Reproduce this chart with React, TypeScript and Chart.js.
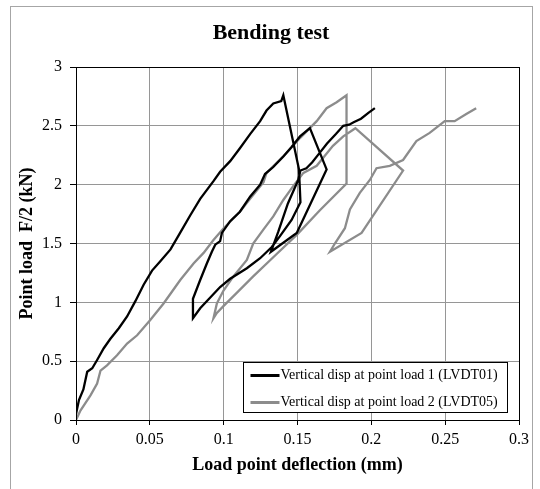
import React, { useEffect, useRef } from "react";
import { Chart, registerables } from "chart.js";

Chart.register(...registerables);

const chartTitle = "Bending test";
const xAxisTitle = "Load point deflection (mm)";
const yAxisTitle = "Point load  F/2 (kN)";

const seriesLabels = [
  "Vertical disp at point load 1 (LVDT01)",
  "Vertical disp at point load 2 (LVDT05)",
];

const xTickValues = [0, 0.05, 0.1, 0.15, 0.2, 0.25, 0.3];
const yTickValues = [0, 0.5, 1, 1.5, 2, 2.5, 3];

// LVDT01 (black)
const lvdt01X = [
  0, 0.002, 0.005, 0.0076, 0.011, 0.0143, 0.0188, 0.0233, 0.029, 0.0346, 0.0402, 0.0458, 0.0515, 0.0571, 0.064, 0.07,
  0.0774, 0.0841, 0.0931, 0.0976, 0.1044, 0.111, 0.1179, 0.1247, 0.129, 0.1336, 0.139, 0.1404,
  0.151, 0.152, 0.146, 0.138, 0.1326, 0.1247, 0.1157, 0.1044, 0.0976, 0.0841, 0.0792,
  0.0792, 0.0841, 0.0886, 0.092, 0.0943, 0.0976, 0.0988, 0.1044, 0.111, 0.118, 0.1247, 0.128, 0.1336, 0.1404, 0.146,
  0.1517, 0.1584,
  0.1697, 0.1495, 0.132,
  0.137, 0.1435, 0.1505, 0.152, 0.156, 0.16, 0.165, 0.17, 0.176, 0.181, 0.185, 0.188, 0.193, 0.198, 0.2024,
];
const lvdt01Y = [
  0.05, 0.17, 0.26, 0.41, 0.44, 0.51, 0.61, 0.69, 0.78, 0.88, 1.01, 1.15, 1.27, 1.35, 1.45, 1.58,
  1.74, 1.88, 2.03, 2.11, 2.2, 2.31, 2.43, 2.54, 2.63, 2.69, 2.71, 2.76,
  2.13, 1.85, 1.7, 1.56, 1.47, 1.375, 1.29, 1.2, 1.13, 0.95, 0.865,
  1.03, 1.19, 1.33, 1.43, 1.49, 1.52, 1.59, 1.69, 1.77, 1.9, 2.0, 2.09, 2.15, 2.24, 2.32,
  2.41, 2.48,
  2.13, 1.59, 1.43,
  1.6, 1.84, 2.04, 2.12, 2.14, 2.19, 2.27, 2.35, 2.43, 2.5, 2.51, 2.53, 2.56, 2.61, 2.65,
];

// LVDT05 (grey)
const lvdt05X = [
  0, 0.003, 0.0098, 0.0143, 0.0166, 0.021, 0.0278, 0.0346, 0.0414, 0.0503, 0.0593, 0.0706, 0.0796, 0.0864, 0.0931, 0.1,
  0.111, 0.1179, 0.127, 0.129, 0.1404, 0.152, 0.163, 0.1697, 0.1765, 0.1832,
  0.1832,
  0.165, 0.15, 0.135, 0.12, 0.108, 0.1, 0.0954, 0.0931,
  0.0954, 0.0999, 0.1066, 0.1157, 0.12, 0.127, 0.1336, 0.1404, 0.1472, 0.154, 0.163, 0.174, 0.181, 0.1892,
  0.2215, 0.1934, 0.172,
  0.1753, 0.1821, 0.1855, 0.1922, 0.199, 0.2035, 0.2125, 0.2215, 0.2305, 0.2395, 0.2497, 0.2564, 0.2643, 0.271,
];
const lvdt05Y = [
  0, 0.08, 0.21, 0.31, 0.42, 0.465, 0.55, 0.65, 0.72, 0.85, 0.99, 1.19, 1.33, 1.42, 1.53, 1.63,
  1.77, 1.88, 2.02, 2.1, 2.24, 2.4, 2.54, 2.65, 2.7, 2.76,
  2.01,
  1.78, 1.58, 1.4, 1.22, 1.07, 0.97, 0.91, 0.865,
  0.99, 1.1, 1.22, 1.36, 1.5, 1.62, 1.73, 1.87, 1.99, 2.1, 2.16, 2.33, 2.41, 2.48,
  2.12, 1.59, 1.43,
  1.5, 1.63, 1.79, 1.93, 2.04, 2.14, 2.16, 2.21, 2.37, 2.44, 2.54, 2.54, 2.6, 2.65,
];

const SERIF = "'Liberation Serif', 'Times New Roman', serif";

const toPoints = (xs: number[], ys: number[]) => xs.map((x, i) => ({ x, y: ys[i] }));

const framePlugin = {
  id: "frame",
  beforeDraw(chart: any) {
    const { ctx, width, height } = chart;
    ctx.save();
    ctx.fillStyle = "#ffffff";
    ctx.fillRect(0, 0, width, height);
    ctx.strokeStyle = "#a6a6a6";
    ctx.lineWidth = 1;
    ctx.strokeRect(10.5, 6.5, 522, height + 20);
    ctx.fillStyle = "#000";
    ctx.font = `bold 22px ${SERIF}`;
    ctx.textAlign = "center";
    ctx.textBaseline = "middle";
    ctx.fillText(chartTitle, 271, 33);
    ctx.restore();
  },
  afterDatasetsDraw(chart: any) {
    const { ctx, chartArea } = chart;
    ctx.save();
    ctx.strokeStyle = "#000";
    ctx.lineWidth = 1;
    ctx.strokeRect(
      Math.round(chartArea.left) + 0.5,
      Math.round(chartArea.top) + 0.5,
      Math.round(chartArea.right - chartArea.left),
      Math.round(chartArea.bottom - chartArea.top)
    );
    // legend
    const bx = 243.5;
    const by = 362.5;
    const bw = 264;
    const bh = 50;
    ctx.fillStyle = "#fff";
    ctx.fillRect(bx, by, bw, bh);
    ctx.strokeStyle = "#000";
    ctx.strokeRect(bx, by, bw, bh);
    ctx.font = `14px ${SERIF}`;
    ctx.textAlign = "left";
    ctx.textBaseline = "middle";
    chart.data.datasets.forEach((ds: any, i: number) => {
      const yy = by + 13 + i * 27;
      ctx.strokeStyle = ds.borderColor;
      ctx.lineWidth = 3;
      ctx.beginPath();
      ctx.moveTo(bx + 7, yy);
      ctx.lineTo(bx + 36, yy);
      ctx.stroke();
      ctx.fillStyle = "#000";
      ctx.fillText(ds.label, bx + 37, yy);
    });
    ctx.restore();
  },
};

export default function App() {
  const ref = useRef<HTMLCanvasElement | null>(null);

  useEffect(() => {
    if (!ref.current) return;
    const chart = new Chart(ref.current, {
      type: "line",
      data: {
        datasets: [
          {
            label: seriesLabels[0],
            data: toPoints(lvdt01X, lvdt01Y),
            borderColor: "#000000",
            backgroundColor: "#000000",
            borderWidth: 2.3,
            pointRadius: 0,
            tension: 0,
            fill: false,
          },
          {
            label: seriesLabels[1],
            data: toPoints(lvdt05X, lvdt05Y),
            borderColor: "#8c8c8c",
            backgroundColor: "#8c8c8c",
            borderWidth: 2.3,
            pointRadius: 0,
            tension: 0,
            fill: false,
          },
        ],
      },
      options: {
        responsive: false,
        animation: false,
        events: [],
        layout: { padding: { left: 0, right: 21, top: 67, bottom: 0 } },
        plugins: {
          legend: { display: false },
          title: { display: false },
          tooltip: { enabled: false },
        },
        scales: {
          x: {
            type: "linear",
            min: 0,
            max: 0.3,
            afterBuildTicks: (scale: any) => {
              scale.ticks = xTickValues.map((v) => ({ value: v }));
            },
            afterFit: (scale: any) => {
              scale.height = 69;
            },
            ticks: {
              color: "#000",
              font: { family: SERIF, size: 16 },
              padding: 5,
              maxRotation: 0,
              autoSkip: false,
              callback: (v: any) => String(Number(v)),
            },
            grid: { color: "#969696", lineWidth: 1, tickLength: 5, tickColor: "#000" },
            border: { color: "#000", width: 1 },
            title: {
              display: true,
              text: xAxisTitle,
              color: "#000",
              font: { family: SERIF, size: 18, weight: "bold" },
              padding: { top: 0, bottom: 13 },
            },
          },
          y: {
            type: "linear",
            min: 0,
            max: 3,
            afterBuildTicks: (scale: any) => {
              scale.ticks = yTickValues.map((v) => ({ value: v }));
            },
            afterFit: (scale: any) => {
              scale.width = 76;
            },
            ticks: {
              color: "#000",
              font: { family: SERIF, size: 16 },
              padding: 8,
              autoSkip: false,
              callback: (v: any) => String(Number(v)),
            },
            grid: { color: "#969696", lineWidth: 1, tickLength: 6, tickColor: "#000" },
            border: { color: "#000", width: 1 },
            title: {
              display: true,
              text: yAxisTitle,
              color: "#000",
              font: { family: SERIF, size: 18, weight: "bold" },
              padding: { top: 17, bottom: 0 },
            },
          },
        },
      },
      plugins: [framePlugin],
    });
    return () => chart.destroy();
  }, []);

  return (
    <div style={{ position: "fixed", left: 0, top: 0, width: 540, height: 489, background: "#fff" }}>
      <canvas ref={ref} width={540} height={489} style={{ display: "block" }} />
    </div>
  );
}
